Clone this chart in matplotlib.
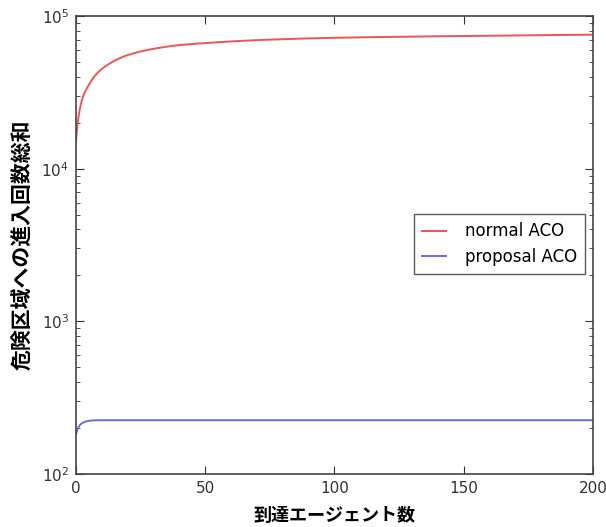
import matplotlib
matplotlib.use("Agg")
import matplotlib.pyplot as plt
import numpy as np

plt.rcParams['font.family'] = ['DejaVu Sans', 'Noto Sans CJK JP']

# data
x_normal = [0, 0.5, 1, 2, 3, 5, 7, 10, 15, 20, 30, 40, 50, 70, 100, 150, 200]
y_normal = [15200, 19000, 22000, 27000, 30500, 35500, 40000, 45000, 51000, 55500,
            61000, 64500, 66500, 69500, 72000, 74000, 75500]
x_proposal = [0, 0.5, 1, 1.5, 2, 3, 4, 5, 7, 10, 20, 50, 100, 150, 200]
y_proposal = [182, 195, 203, 209, 213, 218, 221, 223, 224.5, 225, 225, 225, 225, 225, 225]

xticks = [0, 50, 100, 150, 200]
labels = ["normal ACO", "proposal ACO"]
xlabel = "到達エージェント数"
ylabel = "危険区域への進入回数総和"


def pchip(xk, yk, xs):
    xk = np.asarray(xk, float); yk = np.asarray(yk, float)
    h = np.diff(xk); d = np.diff(yk) / h
    n = len(xk); m = np.zeros(n)
    for i in range(1, n - 1):
        if d[i - 1] * d[i] > 0:
            w1 = 2 * h[i] + h[i - 1]; w2 = h[i] + 2 * h[i - 1]
            m[i] = (w1 + w2) / (w1 / d[i - 1] + w2 / d[i])
    m[0] = d[0]; m[-1] = d[-1]
    idx = np.clip(np.searchsorted(xk, xs) - 1, 0, n - 2)
    t = (xs - xk[idx]) / h[idx]
    h00 = 2 * t**3 - 3 * t**2 + 1; h10 = t**3 - 2 * t**2 + t
    h01 = -2 * t**3 + 3 * t**2; h11 = t**3 - t**2
    return h00 * yk[idx] + h10 * h[idx] * m[idx] + h01 * yk[idx + 1] + h11 * h[idx] * m[idx + 1]


fig = plt.figure(figsize=(6.06, 5.27), dpi=100)
ax = fig.add_axes([0.1254, 0.1006, 0.8531, 0.869])

xs = np.linspace(0, 200, 4001)
ax.plot(xs, 10 ** pchip(x_normal, np.log10(y_normal), xs), color='#f05555', lw=1.4, label=labels[0])
ax.plot(xs, 10 ** pchip(x_proposal, np.log10(y_proposal), xs), color='#6a6aee', lw=1.4, label=labels[1])

ax.set_yscale('log')
ax.set_ylim(100, 100000)
ax.set_xlim(0, 200)
ax.set_xticks(xticks)
ax.tick_params(which='both', direction='in', top=True, right=True, labelsize=11, colors='#333333')
ax.tick_params(which='major', length=6, pad=5)
ax.tick_params(which='minor', length=3)
for s in ax.spines.values():
    s.set_color('#444444')
    s.set_linewidth(1.2)

ax.set_xlabel(xlabel, fontsize=13, fontweight='bold', labelpad=7, family=['Noto Sans CJK JP'])
ax.set_ylabel(ylabel, fontsize=15, fontweight='bold', labelpad=6, family=['Noto Sans CJK JP'])

leg = ax.legend(loc='center right', bbox_to_anchor=(0.985, 0.502), fontsize=12,
                frameon=True, fancybox=False, borderpad=0.5, handlelength=1.4,
                handletextpad=1.15, borderaxespad=0.0, labelspacing=0.45)
leg.get_frame().set_edgecolor('#333333')
leg.get_frame().set_linewidth(1.0)

fig.savefig("out.png", dpi=100, facecolor='white')
